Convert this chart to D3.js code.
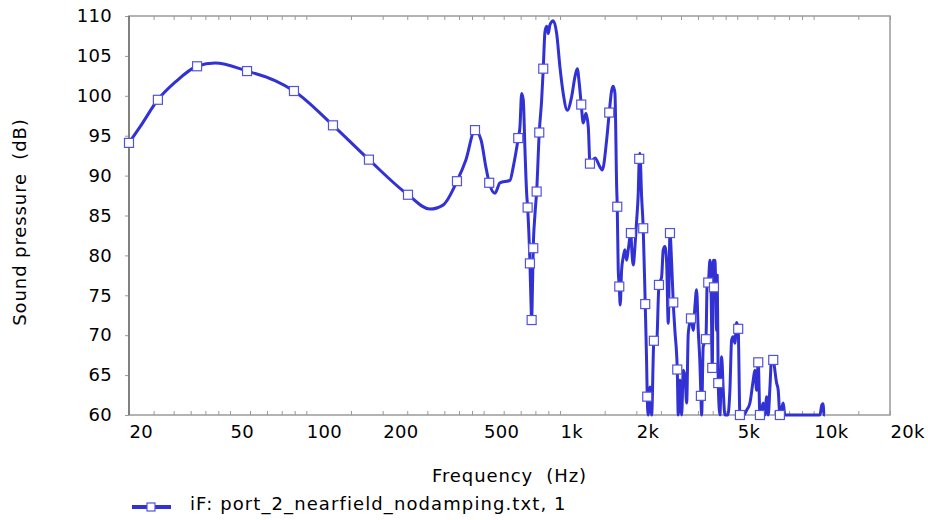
<!DOCTYPE html>
<html>
<head>
<meta charset="utf-8">
<script src="https://cdn.jsdelivr.net/npm/d3@7"></script>
<style>
  body { margin: 0; background: #fff; }
  text { font-family: "DejaVu Sans", Verdana, sans-serif; font-size: 18px; fill: #000; letter-spacing: 0.3px; }
  .title { letter-spacing: 0.9px; }
  .legend-text { letter-spacing: 1.1px; }
</style>
</head>
<body>
<div id="chart"></div>
<script>
// Frequency response (Hz / dB)
const freqs = [20, 22.1, 26.0, 30.4, 37.1, 43.7, 58.4, 75.3, 89.4, 127.4, 176.6, 251.7, 307.2, 345.8,
  392.6, 426, 462.4, 488.2, 510.9, 526, 554.4, 580, 635, 654.4, 684.8, 695.4, 706.2, 716.6, 727.8,
  739, 745.6, 761.4, 768.2, 773.2, 778.8, 784.6, 796.8, 809.2, 828.6, 846.8, 859.2, 872.6, 886.2,
  899.2, 913.2, 941, 970.4, 999.8, 1030, 1068, 1112, 1146, 1170, 1191, 1213, 1235, 1266, 1293,
  1313, 1374, 1437, 1468, 1528, 1564, 1599, 1622, 1647, 1673, 1682, 1697, 1713, 1728, 1750, 1776,
  1803, 1831, 1858, 1904, 1916, 1945, 1975, 2006, 2035, 2053, 2066, 2098, 2129, 2168, 2196, 2208,
  2228, 2263, 2298, 2346, 2404, 2456, 2516, 2553, 2593, 2634, 2672, 2714, 2756, 2796, 2838, 2900,
  2926, 2972, 3018, 3062, 3110, 3158, 3204, 3284, 3352, 3404, 3456, 3508, 3562, 3594, 3618, 3670,
  3762, 3808, 3842, 3902, 3948, 3984, 4020, 4046, 4082, 4146, 4169, 4206, 4272, 4338, 4402, 4470,
  4592, 4676, 4750, 4818, 4894, 4970, 5042, 5122, 5310, 5442, 5608, 5780, 5868, 5960, 6048, 6142,
  6328, 6426, 6526, 6622, 6726, 6830, 6930, 7146, 7250, 7362, 7586, 7704, 10586, 10780, 10908,
  10980, 11078];

const spl = [94.1, 96.1, 99.5, 101.7, 103.7, 104.1, 103.1, 101.9, 100.6, 96.3, 92.0, 87.6, 85.8, 86.3,
  89.3, 92.0, 95.7, 94.5, 91.0, 89.1, 87.8, 89.1, 89.4, 91.1, 94.7, 96.1, 100.3, 99.5, 93.2,
  87.8, 86.0, 79.0, 74.4, 71.9, 75.7, 80.9, 85.1, 88.0, 95.4, 99.5, 103.4, 108.0, 108.7,
  107.8, 108.9, 109.4, 107.8, 103.6, 100.3, 98.2, 99.9, 102.4, 103.4, 101.6, 98.9, 96.6, 97.8, 96.1,
  91.5, 92.2, 91.1, 90.7, 94.5, 97.9, 100.7, 101.2, 100.3, 88.6, 86.1, 78.2, 76.1, 73.8, 78.2, 79.8,
  80.7, 79.4, 80.7, 82.8, 81.1, 78.8, 81.1, 84.4, 87.8, 92.1, 92.8, 87.4, 83.4, 73.9, 66.5, 62.3,
  60, 63.5, 60, 69.3, 69.0, 76.3, 77.3, 80.7, 81.1, 79.0, 71.5, 82.8, 79.0, 74.1, 70.6, 65.7,
  60, 64.4, 60, 65.6, 64.8, 61.5, 70.2, 72.1, 70.6, 73.6, 75.7, 70.6, 66.5, 62.4, 60, 68.6,
  69.5, 76.9, 76.6, 79.4, 74.4, 65.9, 79.4, 76.0, 79.4, 70.6, 77.5, 64.0, 60, 67.3, 63.1, 60,
  60, 63.1, 69.4, 69.8, 69.0, 71.6, 70.8, 60, 60, 60.6, 61.5, 64.4, 65.6, 63.1, 66.6, 60,
  61.5, 60, 62.3, 60, 63.5, 67.3, 66.9, 64.0, 63.1, 60, 61.5, 60, 60, 61.3, 61.4,
  60, 60];

// Frequencies where the square markers sit
const markerFreqs = [20, 26.0, 37.1, 58.4, 89.4, 127.4, 176.6, 251.7, 392.6, 462.4, 526, 684.8, 745.6,
  761.4, 773.2, 784.6, 809.2, 828.6, 859.2, 1213, 1313, 1564, 1682, 1713, 1904, 2053, 2129, 2168,
  2208, 2346, 2456, 2714, 2796, 2900, 3284, 3594, 3762, 3842, 3984, 4046, 4206, 5042, 5122, 6048,
  6142, 6930, 7362];

const xLabelValues = [20, 50, 100, 200, 500, 1000, 2000, 5000, 10000, 20000];
const xLabelTexts = ["20", "50", "100", "200", "500", "1k", "2k", "5k", "10k", "20k"];
const yTickValues = [60, 65, 70, 75, 80, 85, 90, 95, 100, 105, 110];
const minorSteps = [1, 1.5, 2, 2.5, 3, 3.5, 4, 4.5, 5, 6, 7, 8, 9];

const lineColor = "#3131d4";

const margin = { top: 16, right: 38, bottom: 105, left: 129 };
const width = 928 - margin.left - margin.right;
const height = 520 - margin.top - margin.bottom;

const svg = d3.select("#chart").append("svg")
    .attr("width", 928)
    .attr("height", 520);

const g = svg.append("g")
    .attr("transform", `translate(${margin.left}, ${margin.top})`);

const x = d3.scaleLog().domain([20, 20000]).range([0, width]);
const y = d3.scaleLinear().domain([60, 110]).range([height, 0]);

// minor tick positions for every decade
const minorTicks = [];
[10, 100, 1000, 10000].forEach(d => minorSteps.forEach(s => {
    const v = d * s;
    if (v >= 20 && v <= 20000) minorTicks.push(v);
}));

// inward ticks on top and bottom
g.append("g")
    .attr("transform", `translate(0, ${height})`)
    .call(d3.axisBottom(x).tickValues(minorTicks).tickSize(-4).tickFormat(""))
    .call(a => a.select(".domain").remove())
    .selectAll("line").attr("stroke", "#999");

g.append("g")
    .call(d3.axisTop(x).tickValues(minorTicks).tickSize(-4).tickFormat(""))
    .call(a => a.select(".domain").remove())
    .selectAll("line").attr("stroke", "#999");

// x labels start at their tick
const xLab = g.append("g")
    .attr("transform", `translate(0, ${height})`)
    .call(d3.axisBottom(x).tickValues(xLabelValues).tickSize(0).tickPadding(10)
        .tickFormat((d, i) => xLabelTexts[i]));
xLab.select(".domain").remove();
xLab.selectAll("text").attr("text-anchor", "start");

// y axis
const yAx = g.append("g")
    .call(d3.axisLeft(y).tickValues(yTickValues).tickSize(4).tickPadding(13));
yAx.select(".domain").remove();
yAx.selectAll("line").attr("stroke", "#999");

// frame
g.append("rect")
    .attr("width", width)
    .attr("height", height)
    .attr("fill", "none")
    .attr("stroke", "#9a9a9a")
    .attr("stroke-width", 1.5);
g.append("line")
    .attr("x1", 0).attr("x2", 0)
    .attr("y1", 0).attr("y2", height)
    .attr("stroke", "#707070")
    .attr("stroke-width", 1.5);

const data = freqs.map((f, i) => ({ f: f, v: spl[i] }));

const line = d3.line()
    .x(d => x(d.f))
    .y(d => y(d.v))
    .curve(d3.curveMonotoneX);

g.append("path")
    .datum(data)
    .attr("fill", "none")
    .attr("stroke", lineColor)
    .attr("stroke-width", 3)
    .attr("stroke-linejoin", "round")
    .attr("d", line);

// markers snap to the nearest data point
const markers = markerFreqs.map(mf => {
    let best = data[0];
    data.forEach(d => {
        if (Math.abs(Math.log(d.f / mf)) < Math.abs(Math.log(best.f / mf))) best = d;
    });
    return best;
});

g.selectAll(".marker")
    .data(markers)
    .enter()
    .append("rect")
    .attr("class", "marker")
    .attr("x", d => x(d.f) - 4.5)
    .attr("y", d => y(d.v) - 4.5)
    .attr("width", 9)
    .attr("height", 9)
    .attr("fill", "#fff")
    .attr("stroke", "#5252e0")
    .attr("stroke-width", 1.2);

// axis titles
svg.append("text")
    .attr("class", "title")
    .attr("x", margin.left + width / 2)
    .attr("y", 482)
    .attr("text-anchor", "middle")
    .style("white-space", "pre")
    .text("Frequency  (Hz)");

svg.append("text")
    .attr("class", "title")
    .attr("transform", "translate(19, 222) rotate(-90)")
    .attr("text-anchor", "middle")
    .attr("dominant-baseline", "central")
    .style("white-space", "pre")
    .text("Sound pressure  (dB)");

// legend
svg.append("line")
    .attr("x1", 132).attr("x2", 171)
    .attr("y1", 507).attr("y2", 507)
    .attr("stroke", lineColor)
    .attr("stroke-width", 4);
svg.append("rect")
    .attr("x", 147).attr("y", 503)
    .attr("width", 8).attr("height", 8)
    .attr("fill", "#fff")
    .attr("stroke", "#5252e0")
    .attr("stroke-width", 1.2);
svg.append("text")
    .attr("class", "legend-text")
    .attr("x", 190)
    .attr("y", 510)
    .style("white-space", "pre")
    .text("iF: port_2_nearfield_nodamping.txt, 1");
</script>
</body>
</html>
